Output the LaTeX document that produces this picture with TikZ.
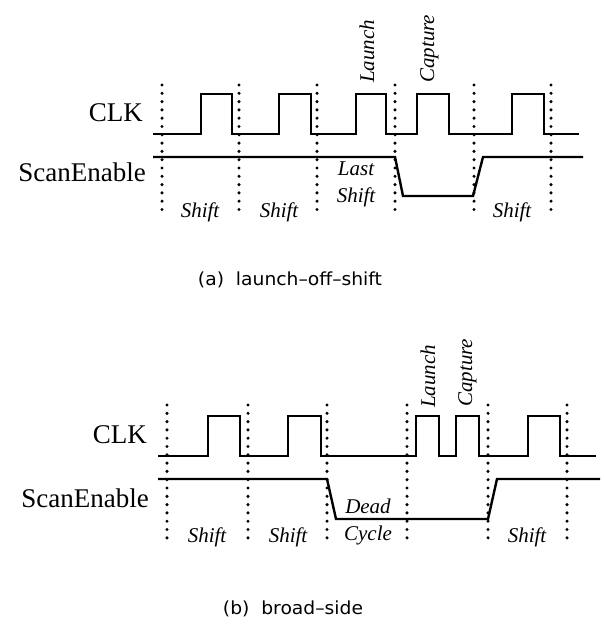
\documentclass[tikz,border=0pt]{standalone}
\usepackage{fontspec}
\setmainfont{Liberation Serif}
\newfontfamily\capfont{DejaVu Sans}
\begin{document}
\begin{tikzpicture}[x=1pt,y=-1pt,
  wave/.style={line width=2.4pt, line join=miter},
  dots/.style={line width=3.4pt, line cap=round, dash pattern=on 0pt off 8.3pt},
  siglabel/.style={font=\fontsize{27}{30}\selectfont, inner sep=0pt, anchor=base east},
  phase/.style={font=\fontsize{21}{27}\selectfont\itshape, inner sep=0pt, anchor=base, align=center},
  event/.style={font=\fontsize{21}{24}\selectfont\itshape, inner sep=0pt, anchor=base west, rotate=90},
  caption/.style={font=\capfont\fontsize{18}{20}\selectfont, inner sep=0pt, anchor=base}]
\useasboundingbox (0,0) rectangle (603,628);

% ---------- panel (a) ----------
\node[siglabel] (clkA) at (143,122) {CLK};
\node[siglabel] (seA) at (146,182) {ScanEnable};
\foreach \x in {162,239,317,395,474,551}
  \draw[dots] (\x,85) -- (\x,212);
\draw[wave] (153,134) -- (201,134) -- (201,94) -- (232,94) -- (232,134)
  -- (279,134) -- (279,94) -- (311,94) -- (311,134)
  -- (356,134) -- (356,94) -- (386,94) -- (386,134)
  -- (417,134) -- (417,94) -- (449,94) -- (449,134)
  -- (512,134) -- (512,94) -- (544,94) -- (544,134) -- (579,134);
\draw[wave] (153,157) -- (395,157) -- (403,196) -- (473,196) -- (483,157) -- (583,157);
\node[phase] (shA1) at (200,218) {Shift};
\node[phase] (shA2) at (279,218) {Shift};
\node[phase] (lastA) at (356,203) {Last\\Shift};
\node[phase] (shA3) at (512,218) {Shift};
\node[event] (launchA) at (374,83) {Launch};
\node[event] (captureA) at (434,83) {Capture};
\node[caption] (capA) at (290,285) {\scalebox{1.04}[1]{(a)\ \ launch–off–shift}};

% ---------- panel (b) ----------
\node[siglabel] (clkB) at (147,443) {CLK};
\node[siglabel] (seB) at (149,507) {ScanEnable};
\foreach \x in {167,248,327,407,488,567}
  \draw[dots] (\x,405) -- (\x,538);
\draw[wave] (158,456) -- (208,456) -- (208,416) -- (240,416) -- (240,456)
  -- (288,456) -- (288,416) -- (321,416) -- (321,456)
  -- (416,456) -- (416,416) -- (439,416) -- (439,456)
  -- (456,456) -- (456,416) -- (479,416) -- (479,456)
  -- (528,456) -- (528,416) -- (560,416) -- (560,456) -- (596,456);
\draw[wave] (158,479) -- (327,479) -- (336,519) -- (488,519) -- (497,479) -- (600,479);
\node[phase] (shB1) at (207,542) {Shift};
\node[phase] (shB2) at (288,542) {Shift};
\node[phase] (deadB) at (368,540) {Dead\\Cycle};
\node[phase] (shB3) at (527,542) {Shift};
\node[event] (launchB) at (435,408) {Launch};
\node[event] (captureB) at (472,407) {Capture};
\node[caption] (capB) at (293,614) {\scalebox{1.04}[1]{(b)\ \ broad–side}};
\end{tikzpicture}
\end{document}
